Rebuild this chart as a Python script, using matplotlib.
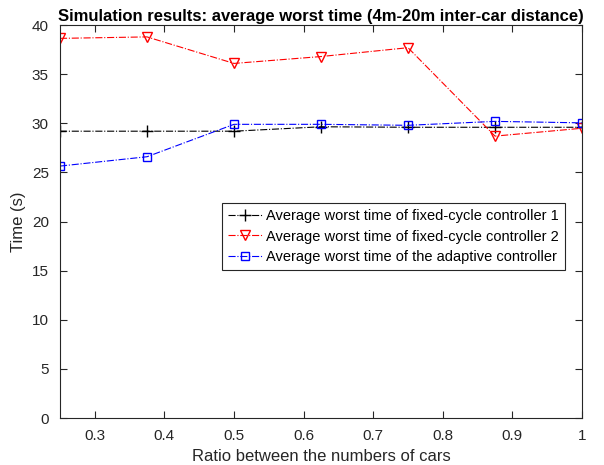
import matplotlib
matplotlib.use("Agg")
import matplotlib.pyplot as plt

plt.rcParams['font.family'] = ['Liberation Sans', 'DejaVu Sans']

ratio = [0.25, 0.375, 0.5, 0.625, 0.75, 0.875, 1.0]
fixed1 = [29.2, 29.2, 29.2, 29.65, 29.6, 29.6, 29.6]
fixed2 = [38.65, 38.8, 36.1, 36.8, 37.7, 28.7, 29.5]
adaptive = [25.65, 26.6, 29.9, 29.9, 29.8, 30.2, 30.05]
labels = ["Average worst time of fixed-cycle controller 1",
          "Average worst time of fixed-cycle controller 2",
          "Average worst time of the adaptive controller"]
xticks = [0.3, 0.4, 0.5, 0.6, 0.7, 0.8, 0.9, 1.0]
xticklabels = ["0.3", "0.4", "0.5", "0.6", "0.7", "0.8", "0.9", "1"]
yticks = [0, 5, 10, 15, 20, 25, 30, 35, 40]

fig = plt.figure(figsize=(6.04, 4.65), dpi=100)
ax = fig.add_axes([0.0993, 0.101, 0.8643, 0.845])

ax.plot(ratio, fixed1, linestyle='-.', color='black', marker='+', markersize=8,
        linewidth=0.8, label=labels[0])
ax.plot(ratio, fixed2, linestyle='-.', color='red', marker='v', markersize=7,
        markerfacecolor='none', linewidth=0.8, label=labels[1])
ax.plot(ratio, adaptive, linestyle='-.', color='blue', marker='s', markersize=6,
        markerfacecolor='none', linewidth=0.8, label=labels[2])

ax.set_xlim(0.25, 1.0)
ax.set_ylim(0, 40)
ax.set_xticks(xticks)
ax.set_xticklabels(xticklabels)
ax.set_yticks(yticks)
ax.tick_params(direction='in', top=True, right=True, labelsize=11, length=5,
               color='#262626', labelcolor='#262626', pad=8)
for s in ax.spines.values():
    s.set_linewidth(0.8)
    s.set_color('#262626')

ax.set_xlabel("Ratio between the numbers of cars", fontsize=12, color='#262626')
ax.set_ylabel("Time (s)", fontsize=12, color='#262626')
ax.set_title("Simulation results: average worst time (4m-20m inter-car distance)",
             fontsize=12, fontweight='bold', pad=3)

leg = ax.legend(loc='upper right', bbox_to_anchor=(0.967, 0.547), fontsize=10.5,
                fancybox=False, edgecolor='#262626', framealpha=1,
                handlelength=2.3, handletextpad=0.3, borderpad=0.4, labelspacing=0.45,
                borderaxespad=0)
leg.get_frame().set_linewidth(0.8)

fig.savefig("out.png", dpi=100)
